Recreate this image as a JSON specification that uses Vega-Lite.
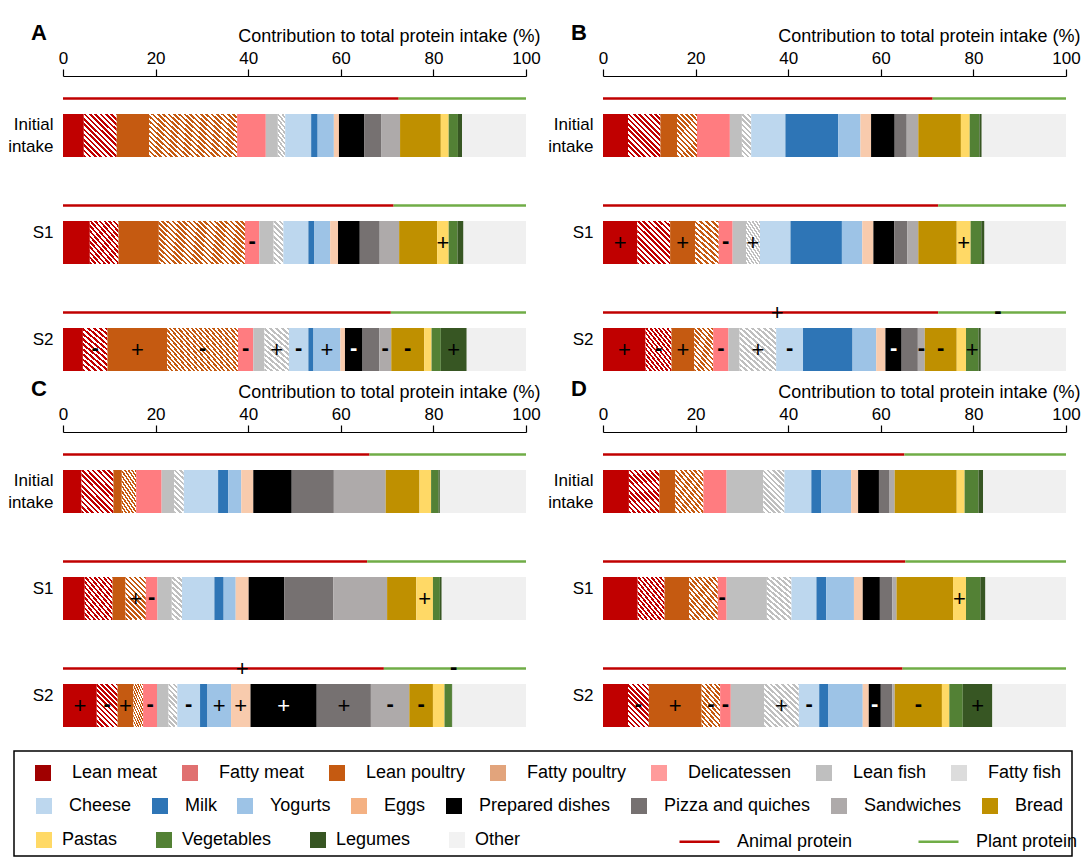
{
"$schema":"https://vega.github.io/schema/vega-lite/v6.json",
"background":"white",
"padding":{"left":6,"top":22,"right":5,"bottom":3},
"config":{"font":"Liberation Sans","view":{"stroke":null},
"axis":{"grid":false,"labelFontSize":17,"titleFontSize":18,"titleFontWeight":"normal","labelColor":"#000","titleColor":"#000","domainColor":"#000","tickColor":"#000","labelFont":"Liberation Sans","titleFont":"Liberation Sans"},
"legend":{"labelFontSize":18,"labelColor":"#000","labelFont":"Liberation Sans","padding":0,"symbolOpacity":1},
"header":{"labelFont":"Liberation Sans"}},
"spacing":21,
"vconcat":[
{"spacing":-8,
"hconcat":[
{"width":1,"height":1,"data":{"values":[]},"mark":"point","encoding":{}},
{
"data":{"values":[
{"p":"A","s":"Initial intake","f":"Lean meat","v":4.5},{"p":"A","s":"Initial intake","f":"Fatty meat","v":7.1},{"p":"A","s":"Initial intake","f":"Lean poultry","v":7.0},{"p":"A","s":"Initial intake","f":"Fatty poultry","v":19.0},{"p":"A","s":"Initial intake","f":"Delicatessen","v":6.2},{"p":"A","s":"Initial intake","f":"Lean fish","v":2.6},{"p":"A","s":"Initial intake","f":"Fatty fish","v":1.6},{"p":"A","s":"Initial intake","f":"Cheese","v":5.6},{"p":"A","s":"Initial intake","f":"Milk","v":1.4},{"p":"A","s":"Initial intake","f":"Yogurts","v":3.5},{"p":"A","s":"Initial intake","f":"Eggs","v":1.1},{"p":"A","s":"Initial intake","f":"Prepared dishes","v":5.5},{"p":"A","s":"Initial intake","f":"Pizza and quiches","v":3.6},{"p":"A","s":"Initial intake","f":"Sandwiches","v":4.1},{"p":"A","s":"Initial intake","f":"Bread","v":8.8},{"p":"A","s":"Initial intake","f":"Pastas","v":1.7},{"p":"A","s":"Initial intake","f":"Vegetables","v":2.0},{"p":"A","s":"Initial intake","f":"Legumes","v":0.9},{"p":"A","s":"Initial intake","f":"Other","v":13.8},
{"p":"A","s":"S1","f":"Lean meat","v":5.8},{"p":"A","s":"S1","f":"Fatty meat","v":6.2},{"p":"A","s":"S1","f":"Lean poultry","v":8.7},{"p":"A","s":"S1","f":"Fatty poultry","v":18.6},{"p":"A","s":"S1","f":"Delicatessen","v":3.1,"m":"-"},{"p":"A","s":"S1","f":"Lean fish","v":3.1},{"p":"A","s":"S1","f":"Fatty fish","v":2.1},{"p":"A","s":"S1","f":"Cheese","v":5.4},{"p":"A","s":"S1","f":"Milk","v":1.3},{"p":"A","s":"S1","f":"Yogurts","v":3.4},{"p":"A","s":"S1","f":"Eggs","v":1.7},{"p":"A","s":"S1","f":"Prepared dishes","v":4.7},{"p":"A","s":"S1","f":"Pizza and quiches","v":4.3},{"p":"A","s":"S1","f":"Sandwiches","v":4.2},{"p":"A","s":"S1","f":"Bread","v":8.2},{"p":"A","s":"S1","f":"Pastas","v":2.5,"m":"+"},{"p":"A","s":"S1","f":"Vegetables","v":1.9},{"p":"A","s":"S1","f":"Legumes","v":1.3},{"p":"A","s":"S1","f":"Other","v":13.5},
{"p":"A","s":"S2","f":"Lean meat","v":4.3},{"p":"A","s":"S2","f":"Fatty meat","v":5.3,"m":"-"},{"p":"A","s":"S2","f":"Lean poultry","v":12.9,"m":"+"},{"p":"A","s":"S2","f":"Fatty poultry","v":15.3,"m":"-"},{"p":"A","s":"S2","f":"Delicatessen","v":3.3,"m":"-"},{"p":"A","s":"S2","f":"Lean fish","v":2.4},{"p":"A","s":"S2","f":"Fatty fish","v":5.3,"m":"+"},{"p":"A","s":"S2","f":"Cheese","v":4.2,"m":"-"},{"p":"A","s":"S2","f":"Milk","v":1.1},{"p":"A","s":"S2","f":"Yogurts","v":5.8,"m":"+"},{"p":"A","s":"S2","f":"Eggs","v":1.0},{"p":"A","s":"S2","f":"Prepared dishes","v":3.8,"m":"-"},{"p":"A","s":"S2","f":"Pizza and quiches","v":3.6},{"p":"A","s":"S2","f":"Sandwiches","v":2.6,"m":"-"},{"p":"A","s":"S2","f":"Bread","v":7.1,"m":"-"},{"p":"A","s":"S2","f":"Pastas","v":1.6},{"p":"A","s":"S2","f":"Vegetables","v":2.0},{"p":"A","s":"S2","f":"Legumes","v":5.6,"m":"+"},{"p":"A","s":"S2","f":"Other","v":12.8},
{"p":"B","s":"Initial intake","f":"Lean meat","v":5.4},{"p":"B","s":"Initial intake","f":"Fatty meat","v":7.0},{"p":"B","s":"Initial intake","f":"Lean poultry","v":3.6},{"p":"B","s":"Initial intake","f":"Fatty poultry","v":4.3},{"p":"B","s":"Initial intake","f":"Delicatessen","v":7.1},{"p":"B","s":"Initial intake","f":"Lean fish","v":2.6},{"p":"B","s":"Initial intake","f":"Fatty fish","v":2.0},{"p":"B","s":"Initial intake","f":"Cheese","v":7.4},{"p":"B","s":"Initial intake","f":"Milk","v":11.4},{"p":"B","s":"Initial intake","f":"Yogurts","v":4.8},{"p":"B","s":"Initial intake","f":"Eggs","v":2.3},{"p":"B","s":"Initial intake","f":"Prepared dishes","v":5.1},{"p":"B","s":"Initial intake","f":"Pizza and quiches","v":2.6},{"p":"B","s":"Initial intake","f":"Sandwiches","v":2.5},{"p":"B","s":"Initial intake","f":"Bread","v":9.2},{"p":"B","s":"Initial intake","f":"Pastas","v":1.9},{"p":"B","s":"Initial intake","f":"Vegetables","v":2.1},{"p":"B","s":"Initial intake","f":"Legumes","v":0.5},{"p":"B","s":"Initial intake","f":"Other","v":18.2},
{"p":"B","s":"S1","f":"Lean meat","v":7.4,"m":"+"},{"p":"B","s":"S1","f":"Fatty meat","v":7.1},{"p":"B","s":"S1","f":"Lean poultry","v":5.4,"m":"+"},{"p":"B","s":"S1","f":"Fatty poultry","v":5.1},{"p":"B","s":"S1","f":"Delicatessen","v":3.0,"m":"-"},{"p":"B","s":"S1","f":"Lean fish","v":2.9},{"p":"B","s":"S1","f":"Fatty fish","v":3.0,"m":"+"},{"p":"B","s":"S1","f":"Cheese","v":6.6},{"p":"B","s":"S1","f":"Milk","v":11.1},{"p":"B","s":"S1","f":"Yogurts","v":4.4},{"p":"B","s":"S1","f":"Eggs","v":2.4},{"p":"B","s":"S1","f":"Prepared dishes","v":4.5},{"p":"B","s":"S1","f":"Pizza and quiches","v":2.8},{"p":"B","s":"S1","f":"Sandwiches","v":2.4},{"p":"B","s":"S1","f":"Bread","v":8.3},{"p":"B","s":"S1","f":"Pastas","v":3.0,"m":"+"},{"p":"B","s":"S1","f":"Vegetables","v":2.3},{"p":"B","s":"S1","f":"Legumes","v":0.7},{"p":"B","s":"S1","f":"Other","v":17.6},
{"p":"B","s":"S2","f":"Lean meat","v":9.2,"m":"+"},{"p":"B","s":"S2","f":"Fatty meat","v":5.6,"m":"-"},{"p":"B","s":"S2","f":"Lean poultry","v":4.9,"m":"+"},{"p":"B","s":"S2","f":"Fatty poultry","v":4.1},{"p":"B","s":"S2","f":"Delicatessen","v":3.3,"m":"-"},{"p":"B","s":"S2","f":"Lean fish","v":2.4},{"p":"B","s":"S2","f":"Fatty fish","v":7.9,"m":"+"},{"p":"B","s":"S2","f":"Cheese","v":5.8,"m":"-"},{"p":"B","s":"S2","f":"Milk","v":10.7},{"p":"B","s":"S2","f":"Yogurts","v":5.1},{"p":"B","s":"S2","f":"Eggs","v":2.0},{"p":"B","s":"S2","f":"Prepared dishes","v":3.5,"m":"-"},{"p":"B","s":"S2","f":"Pizza and quiches","v":3.5},{"p":"B","s":"S2","f":"Sandwiches","v":1.5,"m":"-"},{"p":"B","s":"S2","f":"Bread","v":6.9,"m":"-"},{"p":"B","s":"S2","f":"Pastas","v":2.0},{"p":"B","s":"S2","f":"Vegetables","v":2.7,"m":"+"},{"p":"B","s":"S2","f":"Legumes","v":0.5},{"p":"B","s":"S2","f":"Other","v":18.4},
{"p":"C","s":"Initial intake","f":"Lean meat","v":4.0},{"p":"C","s":"Initial intake","f":"Fatty meat","v":6.9},{"p":"C","s":"Initial intake","f":"Lean poultry","v":1.8},{"p":"C","s":"Initial intake","f":"Fatty poultry","v":3.1},{"p":"C","s":"Initial intake","f":"Delicatessen","v":5.5},{"p":"C","s":"Initial intake","f":"Lean fish","v":2.7},{"p":"C","s":"Initial intake","f":"Fatty fish","v":2.1},{"p":"C","s":"Initial intake","f":"Cheese","v":7.4},{"p":"C","s":"Initial intake","f":"Milk","v":2.2},{"p":"C","s":"Initial intake","f":"Yogurts","v":2.8},{"p":"C","s":"Initial intake","f":"Eggs","v":2.6},{"p":"C","s":"Initial intake","f":"Prepared dishes","v":8.3},{"p":"C","s":"Initial intake","f":"Pizza and quiches","v":9.1},{"p":"C","s":"Initial intake","f":"Sandwiches","v":11.2},{"p":"C","s":"Initial intake","f":"Bread","v":7.3},{"p":"C","s":"Initial intake","f":"Pastas","v":2.5},{"p":"C","s":"Initial intake","f":"Vegetables","v":1.6},{"p":"C","s":"Initial intake","f":"Legumes","v":0.3},{"p":"C","s":"Initial intake","f":"Other","v":18.6},
{"p":"C","s":"S1","f":"Lean meat","v":4.7},{"p":"C","s":"S1","f":"Fatty meat","v":6.0},{"p":"C","s":"S1","f":"Lean poultry","v":2.8},{"p":"C","s":"S1","f":"Fatty poultry","v":4.4,"m":"+"},{"p":"C","s":"S1","f":"Delicatessen","v":2.5,"m":"-"},{"p":"C","s":"S1","f":"Lean fish","v":3.1},{"p":"C","s":"S1","f":"Fatty fish","v":2.2},{"p":"C","s":"S1","f":"Cheese","v":7.0},{"p":"C","s":"S1","f":"Milk","v":2.0},{"p":"C","s":"S1","f":"Yogurts","v":2.6},{"p":"C","s":"S1","f":"Eggs","v":2.8},{"p":"C","s":"S1","f":"Prepared dishes","v":7.7},{"p":"C","s":"S1","f":"Pizza and quiches","v":10.6},{"p":"C","s":"S1","f":"Sandwiches","v":11.6},{"p":"C","s":"S1","f":"Bread","v":6.3},{"p":"C","s":"S1","f":"Pastas","v":3.6,"m":"+"},{"p":"C","s":"S1","f":"Vegetables","v":1.5},{"p":"C","s":"S1","f":"Legumes","v":0.4},{"p":"C","s":"S1","f":"Other","v":18.2},
{"p":"C","s":"S2","f":"Lean meat","v":7.3,"m":"+"},{"p":"C","s":"S2","f":"Fatty meat","v":4.5,"m":"-"},{"p":"C","s":"S2","f":"Lean poultry","v":3.4,"m":"+"},{"p":"C","s":"S2","f":"Fatty poultry","v":2.1},{"p":"C","s":"S2","f":"Delicatessen","v":3.0,"m":"-"},{"p":"C","s":"S2","f":"Lean fish","v":2.5},{"p":"C","s":"S2","f":"Fatty fish","v":1.9},{"p":"C","s":"S2","f":"Cheese","v":4.9,"m":"-"},{"p":"C","s":"S2","f":"Milk","v":1.6},{"p":"C","s":"S2","f":"Yogurts","v":5.1,"m":"+"},{"p":"C","s":"S2","f":"Eggs","v":4.2,"m":"+"},{"p":"C","s":"S2","f":"Prepared dishes","v":14.3,"m":"+"},{"p":"C","s":"S2","f":"Pizza and quiches","v":11.7,"m":"+"},{"p":"C","s":"S2","f":"Sandwiches","v":8.3,"m":"-"},{"p":"C","s":"S2","f":"Bread","v":5.1,"m":"-"},{"p":"C","s":"S2","f":"Pastas","v":2.5},{"p":"C","s":"S2","f":"Vegetables","v":1.6},{"p":"C","s":"S2","f":"Legumes","v":0.1},{"p":"C","s":"S2","f":"Other","v":15.9},
{"p":"D","s":"Initial intake","f":"Lean meat","v":5.6},{"p":"D","s":"Initial intake","f":"Fatty meat","v":6.6},{"p":"D","s":"Initial intake","f":"Lean poultry","v":3.4},{"p":"D","s":"Initial intake","f":"Fatty poultry","v":6.1},{"p":"D","s":"Initial intake","f":"Delicatessen","v":5.0},{"p":"D","s":"Initial intake","f":"Lean fish","v":7.9},{"p":"D","s":"Initial intake","f":"Fatty fish","v":4.6},{"p":"D","s":"Initial intake","f":"Cheese","v":5.8},{"p":"D","s":"Initial intake","f":"Milk","v":2.1},{"p":"D","s":"Initial intake","f":"Yogurts","v":6.5},{"p":"D","s":"Initial intake","f":"Eggs","v":1.5},{"p":"D","s":"Initial intake","f":"Prepared dishes","v":4.5},{"p":"D","s":"Initial intake","f":"Pizza and quiches","v":2.3},{"p":"D","s":"Initial intake","f":"Sandwiches","v":1.1},{"p":"D","s":"Initial intake","f":"Bread","v":13.4},{"p":"D","s":"Initial intake","f":"Pastas","v":1.7},{"p":"D","s":"Initial intake","f":"Vegetables","v":3.0},{"p":"D","s":"Initial intake","f":"Legumes","v":1.0},{"p":"D","s":"Initial intake","f":"Other","v":17.9},
{"p":"D","s":"S1","f":"Lean meat","v":7.5},{"p":"D","s":"S1","f":"Fatty meat","v":5.8},{"p":"D","s":"S1","f":"Lean poultry","v":5.3},{"p":"D","s":"S1","f":"Fatty poultry","v":6.2},{"p":"D","s":"S1","f":"Delicatessen","v":1.9,"m":"-"},{"p":"D","s":"S1","f":"Lean fish","v":8.7},{"p":"D","s":"S1","f":"Fatty fish","v":5.3},{"p":"D","s":"S1","f":"Cheese","v":5.4},{"p":"D","s":"S1","f":"Milk","v":2.1},{"p":"D","s":"S1","f":"Yogurts","v":6.0},{"p":"D","s":"S1","f":"Eggs","v":1.9},{"p":"D","s":"S1","f":"Prepared dishes","v":3.7},{"p":"D","s":"S1","f":"Pizza and quiches","v":2.7},{"p":"D","s":"S1","f":"Sandwiches","v":0.9},{"p":"D","s":"S1","f":"Bread","v":12.2},{"p":"D","s":"S1","f":"Pastas","v":2.8,"m":"+"},{"p":"D","s":"S1","f":"Vegetables","v":3.1},{"p":"D","s":"S1","f":"Legumes","v":1.1},{"p":"D","s":"S1","f":"Other","v":17.4},
{"p":"D","s":"S2","f":"Lean meat","v":5.4},{"p":"D","s":"S2","f":"Fatty meat","v":4.5,"m":"-"},{"p":"D","s":"S2","f":"Lean poultry","v":11.4,"m":"+"},{"p":"D","s":"S2","f":"Fatty poultry","v":4.0,"m":"-"},{"p":"D","s":"S2","f":"Delicatessen","v":2.3,"m":"-"},{"p":"D","s":"S2","f":"Lean fish","v":7.2},{"p":"D","s":"S2","f":"Fatty fish","v":7.5,"m":"+"},{"p":"D","s":"S2","f":"Cheese","v":4.4,"m":"-"},{"p":"D","s":"S2","f":"Milk","v":1.9},{"p":"D","s":"S2","f":"Yogurts","v":7.5},{"p":"D","s":"S2","f":"Eggs","v":1.3},{"p":"D","s":"S2","f":"Prepared dishes","v":2.6,"m":"-"},{"p":"D","s":"S2","f":"Pizza and quiches","v":2.5},{"p":"D","s":"S2","f":"Sandwiches","v":0.5},{"p":"D","s":"S2","f":"Bread","v":10.2,"m":"-"},{"p":"D","s":"S2","f":"Pastas","v":1.6},{"p":"D","s":"S2","f":"Vegetables","v":2.9},{"p":"D","s":"S2","f":"Legumes","v":6.4,"m":"+"},{"p":"D","s":"S2","f":"Other","v":15.9},
{"p":"A","s":"Initial intake","t":"Animal protein","a":0,"b":72.5},{"p":"A","s":"Initial intake","t":"Plant protein","a":72.5,"b":100},
{"p":"A","s":"S1","t":"Animal protein","a":0,"b":71.4},{"p":"A","s":"S1","t":"Plant protein","a":71.4,"b":100},
{"p":"A","s":"S2","t":"Animal protein","a":0,"b":70.8},{"p":"A","s":"S2","t":"Plant protein","a":70.8,"b":100},
{"p":"B","s":"Initial intake","t":"Animal protein","a":0,"b":71.2},{"p":"B","s":"Initial intake","t":"Plant protein","a":71.2,"b":100},
{"p":"B","s":"S1","t":"Animal protein","a":0,"b":72.4},{"p":"B","s":"S1","t":"Plant protein","a":72.4,"b":100},
{"p":"B","s":"S2","t":"Animal protein","a":0,"b":72.4},{"p":"B","s":"S2","t":"Plant protein","a":72.4,"b":100},
{"p":"C","s":"Initial intake","t":"Animal protein","a":0,"b":66.2},{"p":"C","s":"Initial intake","t":"Plant protein","a":66.2,"b":100},
{"p":"C","s":"S1","t":"Animal protein","a":0,"b":65.7},{"p":"C","s":"S1","t":"Plant protein","a":65.7,"b":100},
{"p":"C","s":"S2","t":"Animal protein","a":0,"b":69.3},{"p":"C","s":"S2","t":"Plant protein","a":69.3,"b":100},
{"p":"D","s":"Initial intake","t":"Animal protein","a":0,"b":65.1},{"p":"D","s":"Initial intake","t":"Plant protein","a":65.1,"b":100},
{"p":"D","s":"S1","t":"Animal protein","a":0,"b":65.3},{"p":"D","s":"S1","t":"Plant protein","a":65.3,"b":100},
{"p":"D","s":"S2","t":"Animal protein","a":0,"b":64.7},{"p":"D","s":"S2","t":"Plant protein","a":64.7,"b":100},
{"p":"B","s":"S2","lm":"+","lx":37.6},{"p":"B","s":"S2","lm":"-","lx":85.3},
{"p":"C","s":"S2","lm":"+","lx":38.7},{"p":"C","s":"S2","lm":"-","lx":84.4}
]},
"transform":[{"calculate":"indexof(['Lean meat','Fatty meat','Lean poultry','Fatty poultry','Delicatessen','Lean fish','Fatty fish','Cheese','Milk','Yogurts','Eggs','Prepared dishes','Pizza and quiches','Sandwiches','Bread','Pastas','Vegetables','Legumes','Other'], datum.f)","as":"o"}],
"facet":{"field":"p","type":"nominal","header":{"title":null,"labelFontSize":22,"labelFontWeight":"bold","labelColor":"#000","labelAnchor":"start","labelAlign":"right","labelPadding":-18,"labelExpr":"datum.value + '\u2800'"}},
"columns":2,
"spacing":{"row":6,"column":6},
"resolve":{"axis":{"x":"independent","y":"independent"}},
"spec":{
"width":463,"height":296,
"layer":[
{"transform":[{"filter":"isValid(datum.f)"}],
"mark":{"type":"bar"},
"encoding":{
"x":{"field":"v","type":"quantitative","stack":"zero","scale":{"domain":[0,100],"nice":false},"title":"Contribution to total protein intake (%)",
"axis":{"orient":"top","values":[0,20,40,60,80,100],"tickSize":7,"labelPadding":2,"titlePadding":4,"domainWidth":1.2,"tickWidth":1.2,"titleX":477,"titleAlign":"right","titleAnchor":"end","labelFlush":false,"labelOverlap":false}},
"y":{"field":"s","type":"nominal","sort":["Initial intake","S1","S2"],"title":null,"scale":{"paddingInner":0.598,"paddingOuter":0.182,"align":0.975},
"axis":{"domain":false,"ticks":false,"labelPadding":10,"labelOffset":-10,"labelLineHeight":22,"labelExpr":"datum.label == 'Initial intake' ? ['Initial','intake'] : datum.label"}},
"order":{"field":"o","type":"quantitative"},
"fill":{"field":"f","type":"nominal","legend":null,
"scale":{"domain":["Lean meat","Fatty meat","Lean poultry","Fatty poultry","Delicatessen","Lean fish","Fatty fish","Cheese","Milk","Yogurts","Eggs","Prepared dishes","Pizza and quiches","Sandwiches","Bread","Pastas","Vegetables","Legumes","Other"],
"range":["#c00000","#c00000","#c55a11","#c55a11","#ff7c80","#bfbfbf","#bfbfbf","#bdd7ee","#2e75b6","#9dc3e6","#f8cbad","#000000","#767171","#aeaaaa","#bf9000","#ffd966","#538135","#375623","#f0f0f0"]},
"condition":[
{"test":"datum.f === 'Fatty meat' && datum.v < 5.5","value":{"gradient":"linear","x1":0,"y1":1,"x2":0.584,"y2":-0.203,"stops":[{"offset":0,"color":"#c00000"},{"offset":0.04,"color":"#c00000"},{"offset":0.04,"color":"#fff"},{"offset":0.08,"color":"#fff"},{"offset":0.08,"color":"#c00000"},{"offset":0.12,"color":"#c00000"},{"offset":0.12,"color":"#fff"},{"offset":0.16,"color":"#fff"},{"offset":0.16,"color":"#c00000"},{"offset":0.2,"color":"#c00000"},{"offset":0.2,"color":"#fff"},{"offset":0.24,"color":"#fff"},{"offset":0.24,"color":"#c00000"},{"offset":0.28,"color":"#c00000"},{"offset":0.28,"color":"#fff"},{"offset":0.32,"color":"#fff"},{"offset":0.32,"color":"#c00000"},{"offset":0.36,"color":"#c00000"},{"offset":0.36,"color":"#fff"},{"offset":0.4,"color":"#fff"},{"offset":0.4,"color":"#c00000"},{"offset":0.44,"color":"#c00000"},{"offset":0.44,"color":"#fff"},{"offset":0.48,"color":"#fff"},{"offset":0.48,"color":"#c00000"},{"offset":0.52,"color":"#c00000"},{"offset":0.52,"color":"#fff"},{"offset":0.56,"color":"#fff"},{"offset":0.56,"color":"#c00000"},{"offset":0.6,"color":"#c00000"},{"offset":0.6,"color":"#fff"},{"offset":0.64,"color":"#fff"},{"offset":0.64,"color":"#c00000"},{"offset":0.68,"color":"#c00000"},{"offset":0.68,"color":"#fff"},{"offset":0.72,"color":"#fff"},{"offset":0.72,"color":"#c00000"},{"offset":0.76,"color":"#c00000"},{"offset":0.76,"color":"#fff"},{"offset":0.8,"color":"#fff"},{"offset":0.8,"color":"#c00000"},{"offset":0.84,"color":"#c00000"},{"offset":0.84,"color":"#fff"},{"offset":0.88,"color":"#fff"},{"offset":0.88,"color":"#c00000"},{"offset":0.92,"color":"#c00000"},{"offset":0.92,"color":"#fff"},{"offset":0.96,"color":"#fff"},{"offset":0.96,"color":"#c00000"},{"offset":1,"color":"#c00000"}]}},
{"test":"datum.f === 'Fatty meat'","value":{"gradient":"linear","x1":0,"y1":1,"x2":0.845,"y2":-0.118,"stops":[{"offset":0,"color":"#c00000"},{"offset":0.035,"color":"#c00000"},{"offset":0.035,"color":"#fff"},{"offset":0.07,"color":"#fff"},{"offset":0.07,"color":"#c00000"},{"offset":0.105,"color":"#c00000"},{"offset":0.105,"color":"#fff"},{"offset":0.14,"color":"#fff"},{"offset":0.14,"color":"#c00000"},{"offset":0.175,"color":"#c00000"},{"offset":0.175,"color":"#fff"},{"offset":0.21,"color":"#fff"},{"offset":0.21,"color":"#c00000"},{"offset":0.245,"color":"#c00000"},{"offset":0.245,"color":"#fff"},{"offset":0.28,"color":"#fff"},{"offset":0.28,"color":"#c00000"},{"offset":0.315,"color":"#c00000"},{"offset":0.315,"color":"#fff"},{"offset":0.35,"color":"#fff"},{"offset":0.35,"color":"#c00000"},{"offset":0.385,"color":"#c00000"},{"offset":0.385,"color":"#fff"},{"offset":0.42,"color":"#fff"},{"offset":0.42,"color":"#c00000"},{"offset":0.455,"color":"#c00000"},{"offset":0.455,"color":"#fff"},{"offset":0.49,"color":"#fff"},{"offset":0.49,"color":"#c00000"},{"offset":0.525,"color":"#c00000"},{"offset":0.525,"color":"#fff"},{"offset":0.56,"color":"#fff"},{"offset":0.56,"color":"#c00000"},{"offset":0.595,"color":"#c00000"},{"offset":0.595,"color":"#fff"},{"offset":0.63,"color":"#fff"},{"offset":0.63,"color":"#c00000"},{"offset":0.665,"color":"#c00000"},{"offset":0.665,"color":"#fff"},{"offset":0.7,"color":"#fff"},{"offset":0.7,"color":"#c00000"},{"offset":0.735,"color":"#c00000"},{"offset":0.735,"color":"#fff"},{"offset":0.77,"color":"#fff"},{"offset":0.77,"color":"#c00000"},{"offset":0.805,"color":"#c00000"},{"offset":0.805,"color":"#fff"},{"offset":0.84,"color":"#fff"},{"offset":0.84,"color":"#c00000"},{"offset":0.875,"color":"#c00000"},{"offset":0.875,"color":"#fff"},{"offset":0.91,"color":"#fff"},{"offset":0.91,"color":"#c00000"},{"offset":0.945,"color":"#c00000"},{"offset":0.945,"color":"#fff"},{"offset":0.98,"color":"#fff"},{"offset":0.98,"color":"#c00000"},{"offset":1,"color":"#c00000"}]}},
{"test":"datum.f === 'Fatty poultry' && datum.v < 5.5","value":{"gradient":"linear","x1":0,"y1":1,"x2":0.584,"y2":-0.203,"stops":[{"offset":0,"color":"#c55a11"},{"offset":0.04,"color":"#c55a11"},{"offset":0.04,"color":"#fff"},{"offset":0.08,"color":"#fff"},{"offset":0.08,"color":"#c55a11"},{"offset":0.12,"color":"#c55a11"},{"offset":0.12,"color":"#fff"},{"offset":0.16,"color":"#fff"},{"offset":0.16,"color":"#c55a11"},{"offset":0.2,"color":"#c55a11"},{"offset":0.2,"color":"#fff"},{"offset":0.24,"color":"#fff"},{"offset":0.24,"color":"#c55a11"},{"offset":0.28,"color":"#c55a11"},{"offset":0.28,"color":"#fff"},{"offset":0.32,"color":"#fff"},{"offset":0.32,"color":"#c55a11"},{"offset":0.36,"color":"#c55a11"},{"offset":0.36,"color":"#fff"},{"offset":0.4,"color":"#fff"},{"offset":0.4,"color":"#c55a11"},{"offset":0.44,"color":"#c55a11"},{"offset":0.44,"color":"#fff"},{"offset":0.48,"color":"#fff"},{"offset":0.48,"color":"#c55a11"},{"offset":0.52,"color":"#c55a11"},{"offset":0.52,"color":"#fff"},{"offset":0.56,"color":"#fff"},{"offset":0.56,"color":"#c55a11"},{"offset":0.6,"color":"#c55a11"},{"offset":0.6,"color":"#fff"},{"offset":0.64,"color":"#fff"},{"offset":0.64,"color":"#c55a11"},{"offset":0.68,"color":"#c55a11"},{"offset":0.68,"color":"#fff"},{"offset":0.72,"color":"#fff"},{"offset":0.72,"color":"#c55a11"},{"offset":0.76,"color":"#c55a11"},{"offset":0.76,"color":"#fff"},{"offset":0.8,"color":"#fff"},{"offset":0.8,"color":"#c55a11"},{"offset":0.84,"color":"#c55a11"},{"offset":0.84,"color":"#fff"},{"offset":0.88,"color":"#fff"},{"offset":0.88,"color":"#c55a11"},{"offset":0.92,"color":"#c55a11"},{"offset":0.92,"color":"#fff"},{"offset":0.96,"color":"#fff"},{"offset":0.96,"color":"#c55a11"},{"offset":1,"color":"#c55a11"}]}},
{"test":"datum.f === 'Fatty poultry' && datum.v < 10","value":{"gradient":"linear","x1":0,"y1":1,"x2":0.845,"y2":-0.118,"stops":[{"offset":0,"color":"#c55a11"},{"offset":0.035,"color":"#c55a11"},{"offset":0.035,"color":"#fff"},{"offset":0.07,"color":"#fff"},{"offset":0.07,"color":"#c55a11"},{"offset":0.105,"color":"#c55a11"},{"offset":0.105,"color":"#fff"},{"offset":0.14,"color":"#fff"},{"offset":0.14,"color":"#c55a11"},{"offset":0.175,"color":"#c55a11"},{"offset":0.175,"color":"#fff"},{"offset":0.21,"color":"#fff"},{"offset":0.21,"color":"#c55a11"},{"offset":0.245,"color":"#c55a11"},{"offset":0.245,"color":"#fff"},{"offset":0.28,"color":"#fff"},{"offset":0.28,"color":"#c55a11"},{"offset":0.315,"color":"#c55a11"},{"offset":0.315,"color":"#fff"},{"offset":0.35,"color":"#fff"},{"offset":0.35,"color":"#c55a11"},{"offset":0.385,"color":"#c55a11"},{"offset":0.385,"color":"#fff"},{"offset":0.42,"color":"#fff"},{"offset":0.42,"color":"#c55a11"},{"offset":0.455,"color":"#c55a11"},{"offset":0.455,"color":"#fff"},{"offset":0.49,"color":"#fff"},{"offset":0.49,"color":"#c55a11"},{"offset":0.525,"color":"#c55a11"},{"offset":0.525,"color":"#fff"},{"offset":0.56,"color":"#fff"},{"offset":0.56,"color":"#c55a11"},{"offset":0.595,"color":"#c55a11"},{"offset":0.595,"color":"#fff"},{"offset":0.63,"color":"#fff"},{"offset":0.63,"color":"#c55a11"},{"offset":0.665,"color":"#c55a11"},{"offset":0.665,"color":"#fff"},{"offset":0.7,"color":"#fff"},{"offset":0.7,"color":"#c55a11"},{"offset":0.735,"color":"#c55a11"},{"offset":0.735,"color":"#fff"},{"offset":0.77,"color":"#fff"},{"offset":0.77,"color":"#c55a11"},{"offset":0.805,"color":"#c55a11"},{"offset":0.805,"color":"#fff"},{"offset":0.84,"color":"#fff"},{"offset":0.84,"color":"#c55a11"},{"offset":0.875,"color":"#c55a11"},{"offset":0.875,"color":"#fff"},{"offset":0.91,"color":"#fff"},{"offset":0.91,"color":"#c55a11"},{"offset":0.945,"color":"#c55a11"},{"offset":0.945,"color":"#fff"},{"offset":0.98,"color":"#fff"},{"offset":0.98,"color":"#c55a11"},{"offset":1,"color":"#c55a11"}]}},
{"test":"datum.f === 'Fatty poultry'","value":{"gradient":"linear","x1":0,"y1":1,"x2":1.194,"y2":0.367,"stops":[{"offset":0,"color":"#c55a11"},{"offset":0.02,"color":"#c55a11"},{"offset":0.02,"color":"#fff"},{"offset":0.04,"color":"#fff"},{"offset":0.04,"color":"#c55a11"},{"offset":0.06,"color":"#c55a11"},{"offset":0.06,"color":"#fff"},{"offset":0.08,"color":"#fff"},{"offset":0.08,"color":"#c55a11"},{"offset":0.1,"color":"#c55a11"},{"offset":0.1,"color":"#fff"},{"offset":0.12,"color":"#fff"},{"offset":0.12,"color":"#c55a11"},{"offset":0.14,"color":"#c55a11"},{"offset":0.14,"color":"#fff"},{"offset":0.16,"color":"#fff"},{"offset":0.16,"color":"#c55a11"},{"offset":0.18,"color":"#c55a11"},{"offset":0.18,"color":"#fff"},{"offset":0.2,"color":"#fff"},{"offset":0.2,"color":"#c55a11"},{"offset":0.22,"color":"#c55a11"},{"offset":0.22,"color":"#fff"},{"offset":0.24,"color":"#fff"},{"offset":0.24,"color":"#c55a11"},{"offset":0.26,"color":"#c55a11"},{"offset":0.26,"color":"#fff"},{"offset":0.28,"color":"#fff"},{"offset":0.28,"color":"#c55a11"},{"offset":0.3,"color":"#c55a11"},{"offset":0.3,"color":"#fff"},{"offset":0.32,"color":"#fff"},{"offset":0.32,"color":"#c55a11"},{"offset":0.34,"color":"#c55a11"},{"offset":0.34,"color":"#fff"},{"offset":0.36,"color":"#fff"},{"offset":0.36,"color":"#c55a11"},{"offset":0.38,"color":"#c55a11"},{"offset":0.38,"color":"#fff"},{"offset":0.4,"color":"#fff"},{"offset":0.4,"color":"#c55a11"},{"offset":0.42,"color":"#c55a11"},{"offset":0.42,"color":"#fff"},{"offset":0.44,"color":"#fff"},{"offset":0.44,"color":"#c55a11"},{"offset":0.46,"color":"#c55a11"},{"offset":0.46,"color":"#fff"},{"offset":0.48,"color":"#fff"},{"offset":0.48,"color":"#c55a11"},{"offset":0.5,"color":"#c55a11"},{"offset":0.5,"color":"#fff"},{"offset":0.52,"color":"#fff"},{"offset":0.52,"color":"#c55a11"},{"offset":0.54,"color":"#c55a11"},{"offset":0.54,"color":"#fff"},{"offset":0.56,"color":"#fff"},{"offset":0.56,"color":"#c55a11"},{"offset":0.58,"color":"#c55a11"},{"offset":0.58,"color":"#fff"},{"offset":0.6,"color":"#fff"},{"offset":0.6,"color":"#c55a11"},{"offset":0.62,"color":"#c55a11"},{"offset":0.62,"color":"#fff"},{"offset":0.64,"color":"#fff"},{"offset":0.64,"color":"#c55a11"},{"offset":0.66,"color":"#c55a11"},{"offset":0.66,"color":"#fff"},{"offset":0.68,"color":"#fff"},{"offset":0.68,"color":"#c55a11"},{"offset":0.7,"color":"#c55a11"},{"offset":0.7,"color":"#fff"},{"offset":0.72,"color":"#fff"},{"offset":0.72,"color":"#c55a11"},{"offset":0.74,"color":"#c55a11"},{"offset":0.74,"color":"#fff"},{"offset":0.76,"color":"#fff"},{"offset":0.76,"color":"#c55a11"},{"offset":0.78,"color":"#c55a11"},{"offset":0.78,"color":"#fff"},{"offset":0.8,"color":"#fff"},{"offset":0.8,"color":"#c55a11"},{"offset":0.82,"color":"#c55a11"},{"offset":0.82,"color":"#fff"},{"offset":0.84,"color":"#fff"},{"offset":0.84,"color":"#c55a11"},{"offset":0.86,"color":"#c55a11"},{"offset":0.86,"color":"#fff"},{"offset":0.88,"color":"#fff"},{"offset":0.88,"color":"#c55a11"},{"offset":0.9,"color":"#c55a11"},{"offset":0.9,"color":"#fff"},{"offset":0.92,"color":"#fff"},{"offset":0.92,"color":"#c55a11"},{"offset":0.94,"color":"#c55a11"},{"offset":0.94,"color":"#fff"},{"offset":0.96,"color":"#fff"},{"offset":0.96,"color":"#c55a11"},{"offset":0.98,"color":"#c55a11"},{"offset":0.98,"color":"#fff"},{"offset":1,"color":"#fff"}]}},
{"test":"datum.f === 'Fatty fish' && datum.v < 3","value":{"gradient":"linear","x1":0,"y1":1,"x2":0.252,"y2":-0.164,"stops":[{"offset":0,"color":"#bfbfbf"},{"offset":0.05,"color":"#bfbfbf"},{"offset":0.05,"color":"#fff"},{"offset":0.1,"color":"#fff"},{"offset":0.1,"color":"#bfbfbf"},{"offset":0.15,"color":"#bfbfbf"},{"offset":0.15,"color":"#fff"},{"offset":0.2,"color":"#fff"},{"offset":0.2,"color":"#bfbfbf"},{"offset":0.25,"color":"#bfbfbf"},{"offset":0.25,"color":"#fff"},{"offset":0.3,"color":"#fff"},{"offset":0.3,"color":"#bfbfbf"},{"offset":0.35,"color":"#bfbfbf"},{"offset":0.35,"color":"#fff"},{"offset":0.4,"color":"#fff"},{"offset":0.4,"color":"#bfbfbf"},{"offset":0.45,"color":"#bfbfbf"},{"offset":0.45,"color":"#fff"},{"offset":0.5,"color":"#fff"},{"offset":0.5,"color":"#bfbfbf"},{"offset":0.55,"color":"#bfbfbf"},{"offset":0.55,"color":"#fff"},{"offset":0.6,"color":"#fff"},{"offset":0.6,"color":"#bfbfbf"},{"offset":0.65,"color":"#bfbfbf"},{"offset":0.65,"color":"#fff"},{"offset":0.7,"color":"#fff"},{"offset":0.7,"color":"#bfbfbf"},{"offset":0.75,"color":"#bfbfbf"},{"offset":0.75,"color":"#fff"},{"offset":0.8,"color":"#fff"},{"offset":0.8,"color":"#bfbfbf"},{"offset":0.85,"color":"#bfbfbf"},{"offset":0.85,"color":"#fff"},{"offset":0.9,"color":"#fff"},{"offset":0.9,"color":"#bfbfbf"},{"offset":0.95,"color":"#bfbfbf"},{"offset":0.95,"color":"#fff"},{"offset":1,"color":"#fff"}]}},
{"test":"datum.f === 'Fatty fish' && datum.v < 5.5","value":{"gradient":"linear","x1":0,"y1":1,"x2":0.584,"y2":-0.203,"stops":[{"offset":0,"color":"#bfbfbf"},{"offset":0.04,"color":"#bfbfbf"},{"offset":0.04,"color":"#fff"},{"offset":0.08,"color":"#fff"},{"offset":0.08,"color":"#bfbfbf"},{"offset":0.12,"color":"#bfbfbf"},{"offset":0.12,"color":"#fff"},{"offset":0.16,"color":"#fff"},{"offset":0.16,"color":"#bfbfbf"},{"offset":0.2,"color":"#bfbfbf"},{"offset":0.2,"color":"#fff"},{"offset":0.24,"color":"#fff"},{"offset":0.24,"color":"#bfbfbf"},{"offset":0.28,"color":"#bfbfbf"},{"offset":0.28,"color":"#fff"},{"offset":0.32,"color":"#fff"},{"offset":0.32,"color":"#bfbfbf"},{"offset":0.36,"color":"#bfbfbf"},{"offset":0.36,"color":"#fff"},{"offset":0.4,"color":"#fff"},{"offset":0.4,"color":"#bfbfbf"},{"offset":0.44,"color":"#bfbfbf"},{"offset":0.44,"color":"#fff"},{"offset":0.48,"color":"#fff"},{"offset":0.48,"color":"#bfbfbf"},{"offset":0.52,"color":"#bfbfbf"},{"offset":0.52,"color":"#fff"},{"offset":0.56,"color":"#fff"},{"offset":0.56,"color":"#bfbfbf"},{"offset":0.6,"color":"#bfbfbf"},{"offset":0.6,"color":"#fff"},{"offset":0.64,"color":"#fff"},{"offset":0.64,"color":"#bfbfbf"},{"offset":0.68,"color":"#bfbfbf"},{"offset":0.68,"color":"#fff"},{"offset":0.72,"color":"#fff"},{"offset":0.72,"color":"#bfbfbf"},{"offset":0.76,"color":"#bfbfbf"},{"offset":0.76,"color":"#fff"},{"offset":0.8,"color":"#fff"},{"offset":0.8,"color":"#bfbfbf"},{"offset":0.84,"color":"#bfbfbf"},{"offset":0.84,"color":"#fff"},{"offset":0.88,"color":"#fff"},{"offset":0.88,"color":"#bfbfbf"},{"offset":0.92,"color":"#bfbfbf"},{"offset":0.92,"color":"#fff"},{"offset":0.96,"color":"#fff"},{"offset":0.96,"color":"#bfbfbf"},{"offset":1,"color":"#bfbfbf"}]}},
{"test":"datum.f === 'Fatty fish'","value":{"gradient":"linear","x1":0,"y1":1,"x2":0.845,"y2":-0.118,"stops":[{"offset":0,"color":"#bfbfbf"},{"offset":0.035,"color":"#bfbfbf"},{"offset":0.035,"color":"#fff"},{"offset":0.07,"color":"#fff"},{"offset":0.07,"color":"#bfbfbf"},{"offset":0.105,"color":"#bfbfbf"},{"offset":0.105,"color":"#fff"},{"offset":0.14,"color":"#fff"},{"offset":0.14,"color":"#bfbfbf"},{"offset":0.175,"color":"#bfbfbf"},{"offset":0.175,"color":"#fff"},{"offset":0.21,"color":"#fff"},{"offset":0.21,"color":"#bfbfbf"},{"offset":0.245,"color":"#bfbfbf"},{"offset":0.245,"color":"#fff"},{"offset":0.28,"color":"#fff"},{"offset":0.28,"color":"#bfbfbf"},{"offset":0.315,"color":"#bfbfbf"},{"offset":0.315,"color":"#fff"},{"offset":0.35,"color":"#fff"},{"offset":0.35,"color":"#bfbfbf"},{"offset":0.385,"color":"#bfbfbf"},{"offset":0.385,"color":"#fff"},{"offset":0.42,"color":"#fff"},{"offset":0.42,"color":"#bfbfbf"},{"offset":0.455,"color":"#bfbfbf"},{"offset":0.455,"color":"#fff"},{"offset":0.49,"color":"#fff"},{"offset":0.49,"color":"#bfbfbf"},{"offset":0.525,"color":"#bfbfbf"},{"offset":0.525,"color":"#fff"},{"offset":0.56,"color":"#fff"},{"offset":0.56,"color":"#bfbfbf"},{"offset":0.595,"color":"#bfbfbf"},{"offset":0.595,"color":"#fff"},{"offset":0.63,"color":"#fff"},{"offset":0.63,"color":"#bfbfbf"},{"offset":0.665,"color":"#bfbfbf"},{"offset":0.665,"color":"#fff"},{"offset":0.7,"color":"#fff"},{"offset":0.7,"color":"#bfbfbf"},{"offset":0.735,"color":"#bfbfbf"},{"offset":0.735,"color":"#fff"},{"offset":0.77,"color":"#fff"},{"offset":0.77,"color":"#bfbfbf"},{"offset":0.805,"color":"#bfbfbf"},{"offset":0.805,"color":"#fff"},{"offset":0.84,"color":"#fff"},{"offset":0.84,"color":"#bfbfbf"},{"offset":0.875,"color":"#bfbfbf"},{"offset":0.875,"color":"#fff"},{"offset":0.91,"color":"#fff"},{"offset":0.91,"color":"#bfbfbf"},{"offset":0.945,"color":"#bfbfbf"},{"offset":0.945,"color":"#fff"},{"offset":0.98,"color":"#fff"},{"offset":0.98,"color":"#bfbfbf"},{"offset":1,"color":"#bfbfbf"}]}}
]}
}},
{"transform":[{"filter":"isValid(datum.t)"}],
"mark":{"type":"rule","strokeWidth":2.5,"yOffset":-37},
"encoding":{
"x":{"field":"a","type":"quantitative","scale":{"domain":[0,100],"nice":false},"title":"Contribution to total protein intake (%)"},
"x2":{"field":"b"},
"y":{"field":"s","type":"nominal","sort":["Initial intake","S1","S2"],"title":null},
"stroke":{"field":"t","type":"nominal","scale":{"domain":["Animal protein","Plant protein"],"range":["#c00000","#70ad47"]},"legend":null}
}},
{"transform":[{"filter":"isValid(datum.f)"}],
"mark":{"type":"text","fontSize":22,"baseline":"middle","align":"center"},
"encoding":{
"x":{"field":"v","type":"quantitative","stack":"zero","bandPosition":0.5,"scale":{"domain":[0,100],"nice":false},"title":"Contribution to total protein intake (%)"},
"y":{"field":"s","type":"nominal","sort":["Initial intake","S1","S2"],"title":null},
"detail":{"field":"f","type":"nominal"},
"order":{"field":"o","type":"quantitative"},
"text":{"condition":{"test":"datum.m === '+'","value":"+"},"value":""},
"color":{"condition":{"test":"datum.f === 'Prepared dishes'","value":"#ffffff"},"value":"#000000"}
}},
{"transform":[{"filter":"isValid(datum.f)"}],
"mark":{"type":"text","fontSize":22,"fontWeight":"bold","baseline":"middle","align":"center","dy":-2},
"encoding":{
"x":{"field":"v","type":"quantitative","stack":"zero","bandPosition":0.5,"scale":{"domain":[0,100],"nice":false},"title":"Contribution to total protein intake (%)"},
"y":{"field":"s","type":"nominal","sort":["Initial intake","S1","S2"],"title":null},
"detail":{"field":"f","type":"nominal"},
"order":{"field":"o","type":"quantitative"},
"text":{"condition":{"test":"datum.m === '-'","value":"-"},"value":""},
"color":{"condition":{"test":"datum.f === 'Prepared dishes'","value":"#ffffff"},"value":"#000000"}
}},
{"transform":[{"filter":"datum.lm === '+'"}],
"mark":{"type":"text","fontSize":22,"baseline":"middle","align":"center","yOffset":-37,"color":"#000"},
"encoding":{
"x":{"field":"lx","type":"quantitative","scale":{"domain":[0,100],"nice":false},"title":"Contribution to total protein intake (%)"},
"y":{"field":"s","type":"nominal","sort":["Initial intake","S1","S2"],"title":null},
"text":{"field":"lm"}
}},
{"transform":[{"filter":"datum.lm === '-'"}],
"mark":{"type":"text","fontSize":22,"fontWeight":"bold","baseline":"middle","align":"center","yOffset":-39,"color":"#000"},
"encoding":{
"x":{"field":"lx","type":"quantitative","scale":{"domain":[0,100],"nice":false},"title":"Contribution to total protein intake (%)"},
"y":{"field":"s","type":"nominal","sort":["Initial intake","S1","S2"],"title":null},
"text":{"field":"lm"}
}}
]}
}
]},
{
"width":1058,"height":105,
"view":{"stroke":"#000","strokeWidth":1.5},
"resolve":{"scale":{"color":"independent","stroke":"independent"}},
"layer":[
{"data":{"values":[{"f":"Lean meat"},{"f":"Fatty meat"},{"f":"Lean poultry"},{"f":"Fatty poultry"},{"f":"Delicatessen"},{"f":"Lean fish"},{"f":"Fatty fish"}]},
"mark":{"type":"bar","opacity":0},"encoding":{"color":{"field":"f","type":"nominal",
"scale":{"domain":["Lean meat","Fatty meat","Lean poultry","Fatty poultry","Delicatessen","Lean fish","Fatty fish"],"range":["#a00000","#e07070","#c55a11","#e2a47c","#ff9b9b","#bfbfbf","#dcdcdc"]},
"legend":{"orient":"none","legendX":20,"legendY":13,"direction":"horizontal","title":null,"symbolType":"square","symbolSize":256,"symbolStrokeWidth":0,"symbolOpacity":1,"labelOffset":20,"columnPadding":23}}}},
{"data":{"values":[{"f":"Cheese"},{"f":"Milk"},{"f":"Yogurts"},{"f":"Eggs"},{"f":"Prepared dishes"},{"f":"Pizza and quiches"},{"f":"Sandwiches"},{"f":"Bread"}]},
"mark":{"type":"bar","opacity":0},"encoding":{"color":{"field":"f","type":"nominal",
"scale":{"domain":["Cheese","Milk","Yogurts","Eggs","Prepared dishes","Pizza and quiches","Sandwiches","Bread"],"range":["#bdd7ee","#2e75b6","#9dc3e6","#f4b183","#000000","#767171","#aeaaaa","#bf9000"]},
"legend":{"orient":"none","legendX":21,"legendY":46,"direction":"horizontal","title":null,"symbolType":"square","symbolSize":256,"symbolStrokeWidth":0,"symbolOpacity":1,"labelOffset":16,"columnPadding":19}}}},
{"data":{"values":[{"f":"Pastas"},{"f":"Vegetables"},{"f":"Legumes"},{"f":"Other"}]},
"mark":{"type":"bar","opacity":0},"encoding":{"color":{"field":"f","type":"nominal",
"scale":{"domain":["Pastas","Vegetables","Legumes","Other"],"range":["#ffd966","#538135","#375623","#f2f2f2"]},
"legend":{"orient":"none","legendX":-7,"legendY":52,"padding":28,"direction":"horizontal","title":null,"symbolType":"square","symbolSize":256,"symbolStrokeWidth":0,"symbolOpacity":1,"labelOffset":9,"columnPadding":37}}}},
{"data":{"values":[{"t":"Animal protein"},{"t":"Plant protein"}]},
"mark":{"type":"rule","opacity":0},"encoding":{"stroke":{"field":"t","type":"nominal",
"scale":{"domain":["Animal protein","Plant protein"],"range":["#c00000","#70ad47"]},
"legend":{"orient":"none","legendX":664,"legendY":69,"direction":"horizontal","title":null,"symbolType":"stroke","symbolSize":1600,"symbolStrokeWidth":2.5,"symbolOpacity":1,"labelOffset":16,"columnPadding":60}}}}
]
}
]
}
